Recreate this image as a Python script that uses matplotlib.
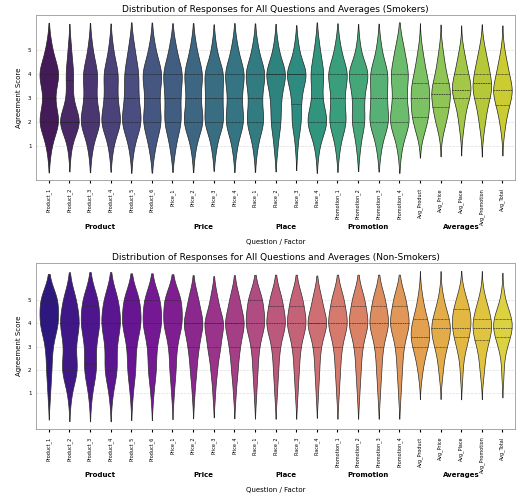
import numpy as np, pandas as pd, matplotlib
matplotlib.use("Agg")
import matplotlib.pyplot as plt, seaborn as sns

questions = ["Product_1","Product_2","Product_3","Product_4","Product_5","Product_6",
             "Price_1","Price_2","Price_3","Price_4","Place_1","Place_2","Place_3","Place_4",
             "Promotion_1","Promotion_2","Promotion_3","Promotion_4"]
avgs = ["Avg_Product","Avg_Price","Avg_Place","Avg_Promotion","Avg_Total"]
groups = ["Product","Price","Place","Promotion","Averages"]
group_pos = [2.5, 7.5, 11.5, 15.5, 20.0]

# counts of answers 1..5 per question
smoke_counts = {
 "Product_1":[3,14,6,14,4],"Product_2":[3,20,5,7,3],"Product_3":[3,14,7,10,3],
 "Product_4":[3,14,8,10,3],"Product_5":[3,13,8,9,4],"Product_6":[4,12,8,13,4],
 "Price_1":[4,12,10,14,5],"Price_2":[3,13,8,12,4],"Price_3":[3,12,10,12,3],
 "Price_4":[3,12,8,13,4],"Place_1":[3,12,8,14,4],"Place_2":[3,8,8,17,4],
 "Place_3":[2,8,8,18,4],"Place_4":[3,16,6,10,4],"Promotion_1":[3,12,8,14,4],
 "Promotion_2":[3,10,8,16,3],"Promotion_3":[3,12,9,11,3],"Promotion_4":[3,14,8,12,6]}
smoke_avg_vals = [1.4,1.8,2.2,2.6,3.0,3.3,3.6,4.0,4.4,4.8,5.2]
smoke_avg_counts = {
 "Avg_Product":[2,4,6,6,5,5,5,4,3,2,1],"Avg_Price":[1,3,5,6,6,6,5,4,3,2,1],
 "Avg_Place":[1,2,3,4,6,7,7,6,4,3,1],"Avg_Promotion":[1,2,3,4,5,6,7,6,5,3,2],
 "Avg_Total":[1,2,3,5,6,7,6,5,4,2,1]}
non_counts = {
 "Product_1":[2,4,5,14,14],"Product_2":[2,10,6,12,8],"Product_3":[2,8,6,12,10],
 "Product_4":[2,8,6,12,9],"Product_5":[2,6,6,14,12],"Product_6":[2,6,6,14,12],
 "Price_1":[2,5,6,15,14],"Price_2":[2,5,8,16,8],"Price_3":[2,5,10,16,6],
 "Price_4":[2,5,8,16,8],"Place_1":[2,4,6,16,12],"Place_2":[2,4,6,16,10],
 "Place_3":[2,4,6,16,10],"Place_4":[2,4,6,18,8],"Promotion_1":[2,4,6,16,10],
 "Promotion_2":[2,4,6,16,10],"Promotion_3":[2,4,6,16,10],"Promotion_4":[2,4,6,16,10]}
non_avg_vals = [1.6,2.0,2.5,3.0,3.4,3.8,4.2,4.6,5.0,5.4]
non_avg_counts = {
 "Avg_Product":[1,2,4,6,7,7,5,3,2,1],"Avg_Price":[1,2,3,5,6,8,6,4,2,1],
 "Avg_Place":[1,1,2,4,5,7,7,6,4,2],"Avg_Promotion":[1,2,3,4,6,8,7,5,3,1],
 "Avg_Total":[1,1,2,4,6,9,8,5,2,1]}

def build(counts, avg_vals, avg_counts):
    rows = []
    for q in questions:
        for s, c in zip([1,2,3,4,5], counts[q]):
            rows += [(q, s)]*c
    for a in avgs:
        for v, c in zip(avg_vals, avg_counts[a]):
            rows += [(a, v)]*c
    return pd.DataFrame(rows, columns=["q","score"])

plt.rcParams['font.family'] = ['DejaVu Sans']
fig, axes = plt.subplots(2, 1, figsize=(5.2, 4.93), dpi=100)
order = questions + avgs
for ax, df, pal, title in [
    (axes[0], build(smoke_counts, smoke_avg_vals, smoke_avg_counts), "viridis",
     "Distribution of Responses for All Questions and Averages (Smokers)"),
    (axes[1], build(non_counts, non_avg_vals, non_avg_counts), "plasma",
     "Distribution of Responses for All Questions and Averages (Non-Smokers)")]:
    sns.violinplot(data=df, x="q", y="score", hue="q", order=order, hue_order=order,
                   palette=sns.color_palette(pal, len(order)), inner="quart",
                   linewidth=0.5, ax=ax, legend=False, width=0.9)
    ax.set_title(title, fontsize=6.5, pad=2)
    ax.set_ylabel("Agreement Score", fontsize=5)
    ax.set_xlabel("Question / Factor", fontsize=5, labelpad=10)
    ax.set_yticks([1,2,3,4,5])
    ax.tick_params(axis='y', labelsize=4, length=0)
    ax.tick_params(axis='x', labelsize=3.5, rotation=90, length=2)
    ax.grid(axis='y', color='#dddddd', linewidth=0.5, linestyle='--')
    ax.set_axisbelow(True)
    ax.set_xlim(-0.6, len(order)-0.4)
    for g, p in zip(groups, group_pos):
        ax.text(p, -0.26, g, transform=ax.get_xaxis_transform(), ha='center',
                va='top', fontsize=5, fontweight='bold')
    for s in ax.spines.values():
        s.set_color('#999999'); s.set_linewidth(0.6)
plt.subplots_adjust(left=0.07, right=0.99, top=0.97, bottom=0.13, hspace=0.5)
fig.savefig("out.png", dpi=100)
